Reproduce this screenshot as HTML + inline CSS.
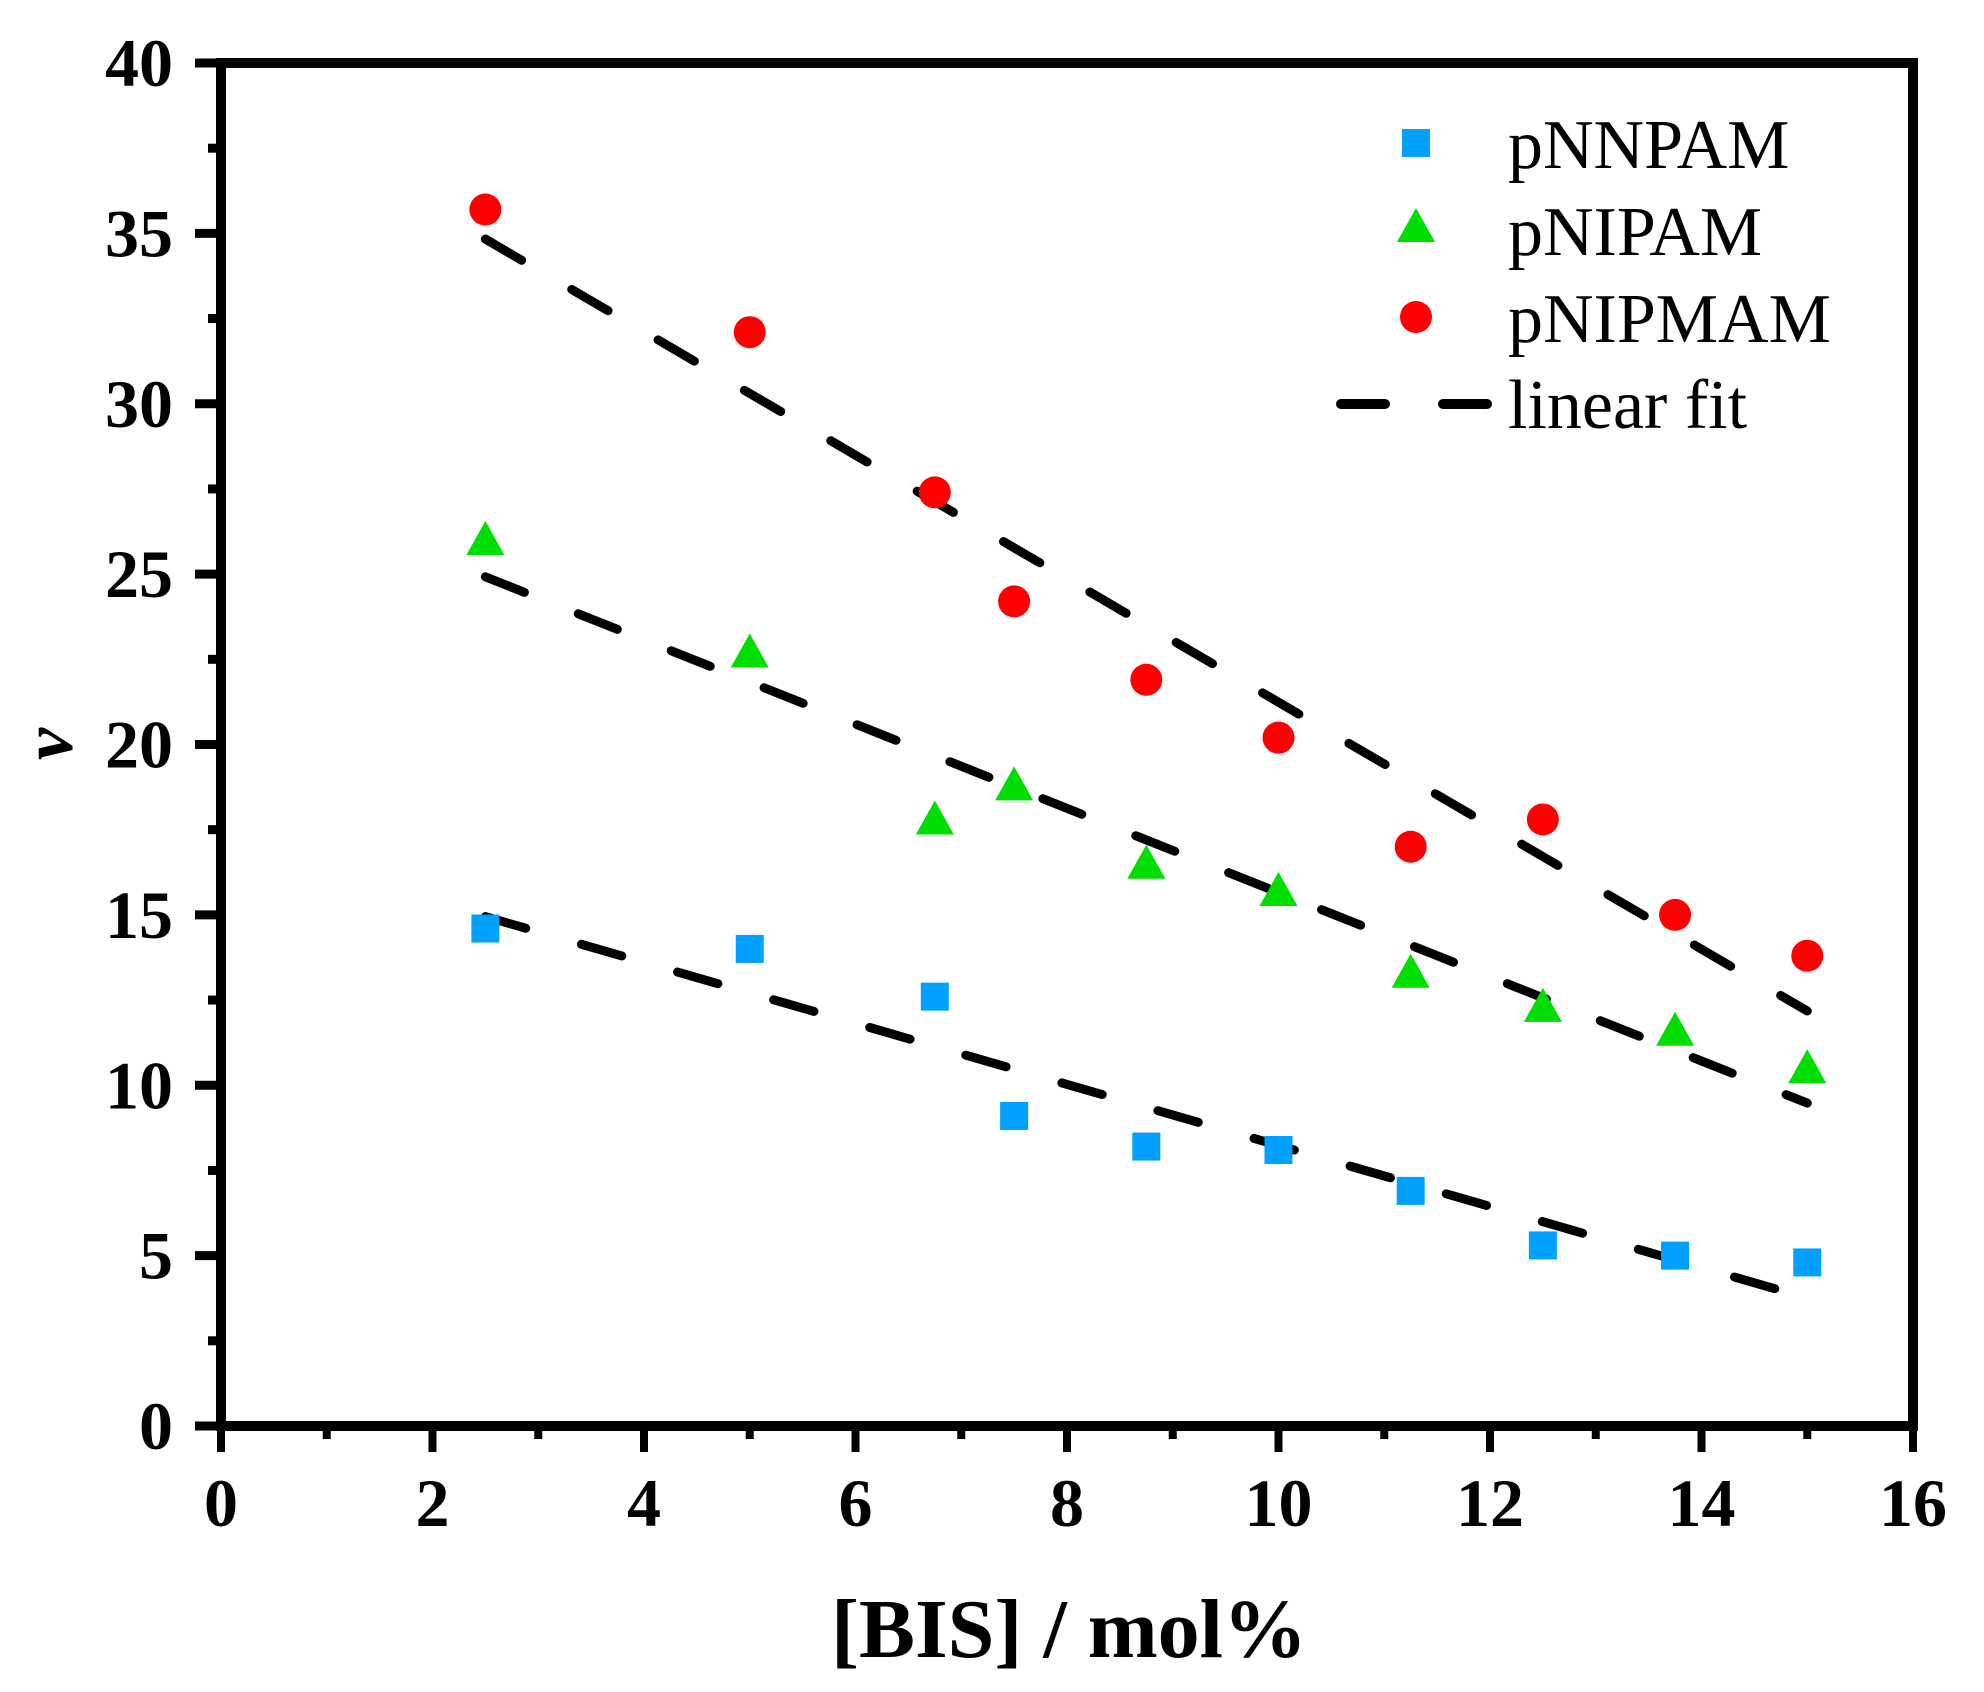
<!DOCTYPE html>
<html><head><meta charset="utf-8"><style>
html,body{margin:0;padding:0;background:#fff;}
svg{display:block;font-family:"Liberation Serif",serif;}
</style></head><body>
<svg id="chart" width="1984" height="1692" viewBox="0 0 1984 1692" xmlns="http://www.w3.org/2000/svg">
<g id="axes"></g>
<g id="fits"></g>
<g id="marks"></g>
<text x="1069" y="1657" font-size="84" font-weight="bold" text-anchor="middle">[BIS] / mol%</text>
<text x="0" y="0" font-size="72" font-weight="bold" font-style="italic" text-anchor="middle" transform="translate(72,744) rotate(-90)">v</text>
<g>
  <rect x="1402" y="129" width="28" height="28" fill="#00a0ff"/>
  <text x="1508" y="168" font-size="70">pNNPAM</text>
  <polygon points="1416,208 1435,242 1397,242" fill="#00dd00"/>
  <text x="1508" y="255" font-size="70">pNIPAM</text>
  <circle cx="1416" cy="317" r="16" fill="#ff0000"/>
  <text x="1508" y="342" font-size="70">pNIPMAM</text>
  <line x1="1341" y1="404" x2="1490" y2="404" stroke="#000" stroke-width="10" stroke-linecap="round" stroke-dasharray="44 58"/>
  <text x="1508" y="428" font-size="70">linear fit</text>
</g>
</svg>
<script>
const xValues = [2.5, 5, 6.75, 7.5, 8.75, 10, 11.25, 12.5, 13.75, 15];
const pnnpam = [14.6, 14.0, 12.6, 9.1, 8.2, 8.1, 6.9, 5.3, 5.0, 4.8];
const pnipam = [26.0, 22.7, 17.8, 18.8, 16.5, 15.7, 13.3, 12.3, 11.6, 10.5];
const pnipmam = [35.7, 32.1, 27.4, 24.2, 21.9, 20.2, 17.0, 17.8, 15.0, 13.8];
const xTicks = [0, 2, 4, 6, 8, 10, 12, 14, 16];
const yTicks = [0, 5, 10, 15, 20, 25, 30, 35, 40];

const NS = "http://www.w3.org/2000/svg";
const X0 = 221, X1 = 1913, Y0 = 1426, Y1 = 63;
const sx = v => X0 + (v - 0) / 16 * (X1 - X0);
const sy = v => Y0 - (v - 0) / 40 * (Y0 - Y1);
function mk(tag, attrs, parent) {
  const e = document.createElementNS(NS, tag);
  for (const k in attrs) e.setAttribute(k, attrs[k]);
  parent.appendChild(e);
  return e;
}
const axes = document.getElementById('axes');
const frame = mk('rect', {x: X0, y: Y1, width: X1 - X0, height: Y0 - Y1, fill: 'none', stroke: '#000', 'stroke-width': 10}, axes);


for (let i = 0; i < xTicks.length; i++) {
  const v = xTicks[i];
  const t = mk('line', {x1: sx(v), y1: Y0, x2: sx(v), y2: Y0 + 26, stroke: '#000', 'stroke-width': 8}, axes);
  
  
  if (i < xTicks.length - 1) {
    const m = mk('line', {x1: sx(v + 1), y1: Y0, x2: sx(v + 1), y2: Y0 + 13, stroke: '#000', 'stroke-width': 8}, axes);
    
    
  }
  const l = mk('text', {x: sx(v), y: 1526, 'font-size': 68, 'font-weight': 'bold', 'text-anchor': 'middle'}, axes);
  
  
  l.textContent = v;
}
for (let i = 0; i < yTicks.length; i++) {
  const v = yTicks[i];
  const t = mk('line', {x1: X0 - 26, y1: sy(v), x2: X0, y2: sy(v), stroke: '#000', 'stroke-width': 9}, axes);
  
  
  if (i < yTicks.length - 1) {
    const m = mk('line', {x1: X0 - 13, y1: sy(v + 2.5), x2: X0, y2: sy(v + 2.5), stroke: '#000', 'stroke-width': 9}, axes);
    
    
  }
  const l = mk('text', {x: 173, y: sy(v) + 23, 'font-size': 68, 'font-weight': 'bold', 'text-anchor': 'end'}, axes);
  
  
  l.textContent = v;
}
function fit(ys) {
  const n = xValues.length;
  let mx = 0, my = 0;
  for (let i = 0; i < n; i++) { mx += xValues[i]; my += ys[i]; }
  mx /= n; my /= n;
  let num = 0, den = 0;
  for (let i = 0; i < n; i++) { num += (xValues[i] - mx) * (ys[i] - my); den += (xValues[i] - mx) ** 2; }
  const b = num / den;
  return [b, my - b * mx];
}
const fits = document.getElementById('fits');
const series = [['pnnpam', pnnpam], ['pnipam', pnipam], ['pnipmam', pnipmam]];
series.forEach(([name, ys]) => {
  const [b, a] = fit(ys);
  const xa = xValues[0], xb = xValues[xValues.length - 1];
  const ln = mk('line', {x1: sx(xa), y1: sy(a + b * xa), x2: sx(xb), y2: sy(a + b * xb), stroke: '#000', 'stroke-width': 9, 'stroke-linecap': 'round', 'stroke-dasharray': '42 58'}, fits);
  
  
});
const marks = document.getElementById('marks');
xValues.forEach((x, i) => {
  const cx = sx(x);
  const s = mk('rect', {x: cx - 14, y: sy(pnnpam[i]) - 14, width: 28, height: 28, fill: '#00a0ff'}, marks);
  
  
  const cy = sy(pnipam[i]);
  const t = mk('polygon', {points: `${cx},${cy - 19} ${cx + 19},${cy + 15} ${cx - 19},${cy + 15}`, fill: '#00dd00'}, marks);
  
  
  const c = mk('circle', {cx: cx, cy: sy(pnipmam[i]), r: 16, fill: '#ff0000'}, marks);
  
  
});
</script>
</body></html>
